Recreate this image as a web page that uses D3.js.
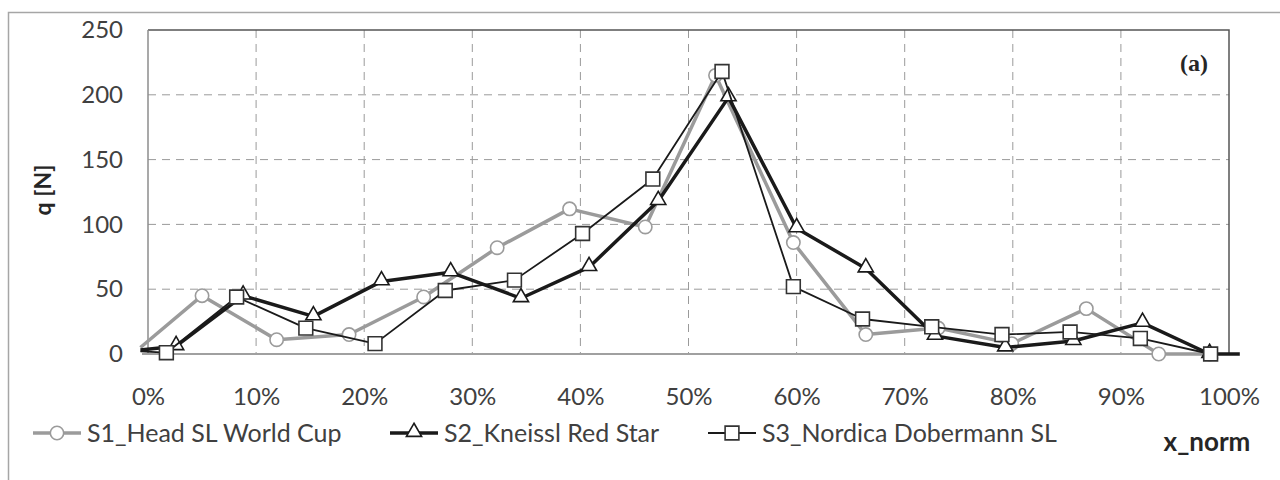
<!DOCTYPE html>
<html>
<head>
<meta charset="utf-8">
<script src="https://cdn.jsdelivr.net/npm/d3@7"></script>
<style>
  body { margin: 0; background: #fff; }
</style>
</head>
<body>
<div id="chart"></div>
<script>
// Data (x in %, y in N)
const xTicks = [0, 10, 20, 30, 40, 50, 60, 70, 80, 90, 100];
const yTicks = [0, 50, 100, 150, 200, 250];

const s1Name = "S1_Head SL World Cup";
const s1X = [-0.7, 5.0, 11.9, 18.6, 25.5, 32.3, 39.0, 46.0, 52.5, 59.7, 66.4, 73.1, 79.9, 86.8, 93.5, 98.2];
const s1Y = [5, 45, 11, 15, 44, 82, 112, 98, 215, 86, 15, 20, 8, 35, 0, 0];

const s2Name = "S2_Kneissl Red Star";
const s2X = [-0.7, 2.6, 8.8, 15.3, 21.6, 28.0, 34.5, 40.8, 47.2, 53.7, 60.0, 66.4, 72.8, 79.3, 85.6, 92.0, 98.2, 101.0];
const s2Y = [3, 6, 45, 29, 56, 63, 43, 67, 118, 198, 97, 66, 14, 5, 10, 24, 0, 0];

const s3Name = "S3_Nordica Dobermann SL";
const s3X = [-0.7, 1.7, 8.2, 14.6, 21.0, 27.5, 33.9, 40.2, 46.7, 53.1, 59.7, 66.1, 72.5, 79.0, 85.3, 91.8, 98.3];
const s3Y = [2, 1, 44, 20, 8, 49, 57, 93, 135, 218, 52, 27, 21, 15, 17, 12, 0];

const chartWidth = 1280;
const chartHeight = 480;
const plotLeft = 148, plotRight = 1229, plotTop = 30, plotBottom = 354;
const sans = "Lato, 'Open Sans', sans-serif";

const svg = d3.select("#chart")
    .append("svg")
    .attr("width", chartWidth)
    .attr("height", chartHeight)
    .style("font-family", sans);

// outer frame
svg.append("path")
    .attr("d", "M8.5,480 L8.5,12.5 L1280,12.5")
    .attr("fill", "none")
    .attr("stroke", "#a6a6a6")
    .attr("stroke-width", 1.5);

const xScale = d3.scaleLinear().domain([0, 100]).range([plotLeft, plotRight]);
const yScale = d3.scaleLinear().domain([0, 250]).range([plotBottom, plotTop]);

// grid
svg.append("g")
    .selectAll("line")
    .data(yTicks.filter(d => d > 0 && d < 250))
    .join("line")
    .attr("x1", plotLeft).attr("x2", plotRight)
    .attr("y1", d => yScale(d)).attr("y2", d => yScale(d))
    .attr("stroke", "#9a9a9a")
    .attr("stroke-dasharray", "8,6");

svg.append("g")
    .selectAll("line")
    .data(xTicks.filter(d => d > 0 && d < 100))
    .join("line")
    .attr("x1", d => xScale(d)).attr("x2", d => xScale(d))
    .attr("y1", plotTop).attr("y2", plotBottom)
    .attr("stroke", "#9a9a9a")
    .attr("stroke-dasharray", "8,6");

// plot frame
svg.append("path")
    .attr("d", `M${plotLeft},${plotTop} L${plotRight},${plotTop} L${plotRight},${plotBottom}`)
    .attr("fill", "none")
    .attr("stroke", "#555")
    .attr("stroke-width", 1.5);
svg.append("line")
    .attr("x1", plotLeft).attr("x2", plotLeft).attr("y1", plotTop).attr("y2", plotBottom)
    .attr("stroke", "#8c8c8c").attr("stroke-width", 1.5);
svg.append("line")
    .attr("x1", plotLeft - 6).attr("x2", plotRight).attr("y1", plotBottom).attr("y2", plotBottom)
    .attr("stroke", "#a0a0a0").attr("stroke-width", 2);

// axes
const yAxis = d3.axisLeft(yScale).tickValues(yTicks).tickSize(0).tickPadding(0);
const gy = svg.append("g")
    .attr("transform", "translate(123,0)")
    .call(yAxis);
gy.select(".domain").remove();
gy.selectAll("text")
    .style("font-size", "24px")
    .style("font-family", sans)
    .attr("fill", "#404040");

const xAxis = d3.axisBottom(xScale).tickValues(xTicks).tickSize(0).tickPadding(0)
    .tickFormat(d => d + "%");
const gx = svg.append("g")
    .attr("transform", "translate(0,388)")
    .call(xAxis);
gx.select(".domain").remove();
gx.selectAll("text")
    .style("font-size", "24px")
    .style("font-family", sans)
    .attr("fill", "#404040");

// series
const line = d3.line()
    .x(d => xScale(d[0]))
    .y(d => yScale(d[1]));

const s1 = s1X.map((x, i) => [x, s1Y[i]]);
const s2 = s2X.map((x, i) => [x, s2Y[i]]);
const s3 = s3X.map((x, i) => [x, s3Y[i]]);

const styles = [
    {name: s1Name, pts: s1, color: "#9b9b9b", w: 3.5, mark: "circle", mstroke: "#9b9b9b"},
    {name: s2Name, pts: s2, color: "#1a1a1a", w: 3.5, mark: "triangle", mstroke: "#1a1a1a"},
    {name: s3Name, pts: s3, color: "#1a1a1a", w: 1.8, mark: "square", mstroke: "#333"}
];

const symbols = {
    circle: d3.symbol().type(d3.symbolCircle).size(140),
    triangle: d3.symbol().type(d3.symbolTriangle).size(100),
    square: d3.symbol().type(d3.symbolSquare).size(190)
};

styles.forEach(s => {
    svg.append("path")
        .datum(s.pts)
        .attr("fill", "none")
        .attr("stroke", s.color)
        .attr("stroke-width", s.w)
        .attr("stroke-linejoin", "round")
        .attr("d", line);
    svg.append("g")
        .selectAll("path")
        .data(s.pts.filter((d, i) => i > 0 && d[0] <= 100))
        .join("path")
        .attr("transform", d => `translate(${xScale(d[0])},${yScale(d[1]) + (s.mark === "triangle" ? -1 : 0)})`)
        .attr("d", symbols[s.mark])
        .attr("fill", "#fff")
        .attr("stroke", s.mstroke)
        .attr("stroke-width", 1.6);
});

// legend
const legendX = [33, 390, 708];
const legend = svg.append("g");
styles.forEach((s, i) => {
    const g = legend.append("g").attr("transform", `translate(${legendX[i]},433)`);
    g.append("line")
        .attr("x1", 0).attr("x2", 48)
        .attr("stroke", s.color)
        .attr("stroke-width", s.w);
    g.append("path")
        .attr("transform", `translate(24,${s.mark === "triangle" ? -1 : 0})`)
        .attr("d", symbols[s.mark])
        .attr("fill", "#fff")
        .attr("stroke", s.mstroke)
        .attr("stroke-width", 1.6);
    g.append("text")
        .attr("x", 54)
        .attr("dy", "0.35em")
        .style("font-size", "25px")
        .attr("fill", "#404040")
        .text(s.name);
});

// titles
svg.append("text")
    .attr("transform", "translate(43,190) rotate(-90)")
    .attr("text-anchor", "middle")
    .attr("dy", "0.35em")
    .style("font-size", "23px")
    .style("font-weight", "bold")
    .attr("fill", "#262626")
    .text("q [N]");

svg.append("text")
    .attr("x", 1207)
    .attr("y", 442)
    .attr("text-anchor", "middle")
    .attr("dy", "0.35em")
    .style("font-size", "26px")
    .style("font-weight", "bold")
    .attr("fill", "#262626")
    .text("x_norm");

svg.append("text")
    .attr("x", 1194)
    .attr("y", 63)
    .attr("text-anchor", "middle")
    .attr("dy", "0.35em")
    .style("font-size", "24px")
    .style("font-weight", "bold")
    .style("font-family", "'Liberation Serif', 'DejaVu Serif', serif")
    .attr("fill", "#262626")
    .text("(a)");
</script>
</body>
</html>
